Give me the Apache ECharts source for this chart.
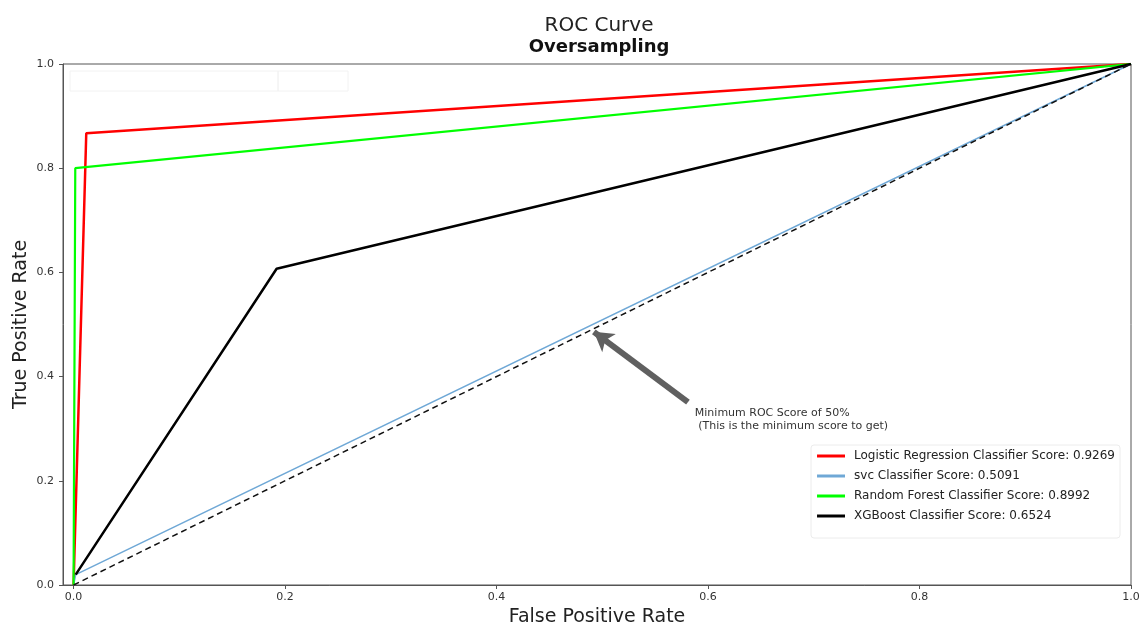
<!DOCTYPE html>
<html>
<head>
<meta charset="utf-8">
<script src="https://cdn.jsdelivr.net/npm/echarts@6/dist/echarts.min.js"></script>
<style>
  html, body { margin: 0; padding: 0; background: #fff; }
  #chart { width: 1139px; height: 625px; }
</style>
</head>
<body>
<div id="chart"></div>
<script>
// ROC points (fpr = x, tpr = y)
const lrFpr = [0, 0.012, 1];
const lrTpr = [0, 0.867, 1];
const svcFpr = [0, 0.002, 1];
const svcTpr = [0, 0.02, 1];
const rfFpr = [0, 0.0016, 1];
const rfTpr = [0, 0.8, 1];
const xgbFpr = [0.002, 0.192, 1];
const xgbTpr = [0.02, 0.607, 1];
const chanceLine = [[0, 0], [1, 1]];

const seriesNames = [
    'Logistic Regression Classifier Score: 0.9269',
    'svc Classifier Score: 0.5091',
    'Random Forest Classifier Score: 0.8992',
    'XGBoost Classifier Score: 0.6524'
];
const tickValues = [0, 0.2, 0.4, 0.6, 0.8, 1.0];

// annotation: arrow tail / head and text anchor (data coords)
const arrowFrom = [0.581, 0.351];
const arrowTo = [0.492, 0.486];
const noteAt = [0.5875, 0.318];
const noteText = 'Minimum ROC Score of 50%\n (This is the minimum score to get)';

function pairs(xs, ys) {
    return xs.map((x, i) => [x, ys[i]]);
}

const font = 'DejaVu Sans';
const chart = echarts.init(document.getElementById('chart'));

function lineSeries(name, xs, ys, color, width) {
    return {
        name: name,
        type: 'line',
        data: pairs(xs, ys),
        symbol: 'none',
        silent: true,
        lineStyle: { color: color, width: width },
        itemStyle: { color: color }
    };
}

chart.setOption({
    animation: false,
    backgroundColor: '#fff',
    textStyle: { fontFamily: font },
    title: [
        {
            text: 'ROC Curve', left: 594, top: 11, textAlign: 'center',
            textStyle: { fontFamily: font, fontSize: 20, fontWeight: 'normal', color: '#222' }
        },
        {
            text: 'Oversampling', left: 594, top: 33, textAlign: 'center',
            textStyle: { fontFamily: font, fontSize: 18, fontWeight: 'bold', color: '#111' }
        }
    ],
    grid: {
        left: 63, right: 8, top: 64, bottom: 40,
        outerBoundsMode: 'none', containLabel: false,
        show: true, borderColor: '#555', borderWidth: 1
    },
    legend: {
        data: seriesNames.map(n => ({ name: n, icon: 'rect' })),
        orient: 'vertical',
        right: 19, top: 445,
        itemWidth: 28, itemHeight: 3, itemGap: 8,
        padding: [5, 5, 16, 6],
        backgroundColor: '#fff',
        borderColor: '#ececec', borderWidth: 1, borderRadius: 3,
        textStyle: { fontFamily: font, fontSize: 12, color: '#222', padding: [0, 0, 0, 4] },
        selectedMode: false
    },
    xAxis: {
        type: 'value', min: -0.01, max: 1.0,
        name: 'False Positive Rate', nameLocation: 'middle', nameGap: 21,
        nameTextStyle: { fontFamily: font, fontSize: 19, color: '#222' },
        axisLine: { onZero: false, lineStyle: { color: '#555' } },
        axisTick: { show: true, customValues: tickValues, length: 4, lineStyle: { color: '#555' } },
        axisLabel: {
            customValues: tickValues, margin: 7,
            fontFamily: font, fontSize: 11, color: '#333',
            formatter: v => v.toFixed(1)
        },
        splitLine: { show: false }
    },
    yAxis: {
        type: 'value', min: 0, max: 1.0, interval: 0.2,
        name: 'True Positive Rate', nameLocation: 'middle', nameGap: 32,
        nameMoveOverlap: false,
        nameTextStyle: { fontFamily: font, fontSize: 19, color: '#222' },
        axisLine: { show: true, onZero: false, lineStyle: { color: '#555' } },
        axisTick: { show: true, length: 4, lineStyle: { color: '#555' } },
        axisLabel: {
            margin: 9, fontFamily: font, fontSize: 11, color: '#333',
            formatter: v => v.toFixed(1)
        },
        splitLine: { show: false }
    },
    series: [
        lineSeries(seriesNames[0], lrFpr, lrTpr, '#ff0000', 2.5),
        lineSeries(seriesNames[1], svcFpr, svcTpr, '#6fa8d6', 1.5),
        lineSeries(seriesNames[2], rfFpr, rfTpr, '#00ff00', 2.2),
        lineSeries(seriesNames[3], xgbFpr, xgbTpr, '#000000', 2.5),
        {
            name: 'chance',
            type: 'line',
            data: chanceLine,
            symbol: 'none',
            silent: true,
            lineStyle: { color: '#111', width: 1.5, type: [6, 4] },
            markLine: {
                silent: true,
                symbol: ['none', 'arrow'],
                symbolSize: [17, 19],
                label: { show: false },
                lineStyle: { color: '#606060', width: 6, type: 'solid' },
                data: [[{ coord: arrowFrom }, { coord: arrowTo }]]
            },
            markPoint: {
                silent: true,
                symbol: 'circle', symbolSize: 0,
                data: [{ coord: noteAt }],
                label: {
                    show: true, position: 'right', distance: 0,
                    formatter: noteText, align: 'left',
                    fontFamily: font, fontSize: 11, color: '#333', lineHeight: 13
                }
            }
        }
    ],
    graphic: [
        // faint empty box in the upper-left corner
        { type: 'rect', shape: { x: 70, y: 71, width: 208, height: 20 }, style: { fill: 'none', stroke: '#f2f2f2', lineWidth: 1 }, silent: true },
        { type: 'rect', shape: { x: 278, y: 71, width: 70, height: 20 }, style: { fill: 'none', stroke: '#f2f2f2', lineWidth: 1 }, silent: true }
    ]
});
</script>
</body>
</html>
